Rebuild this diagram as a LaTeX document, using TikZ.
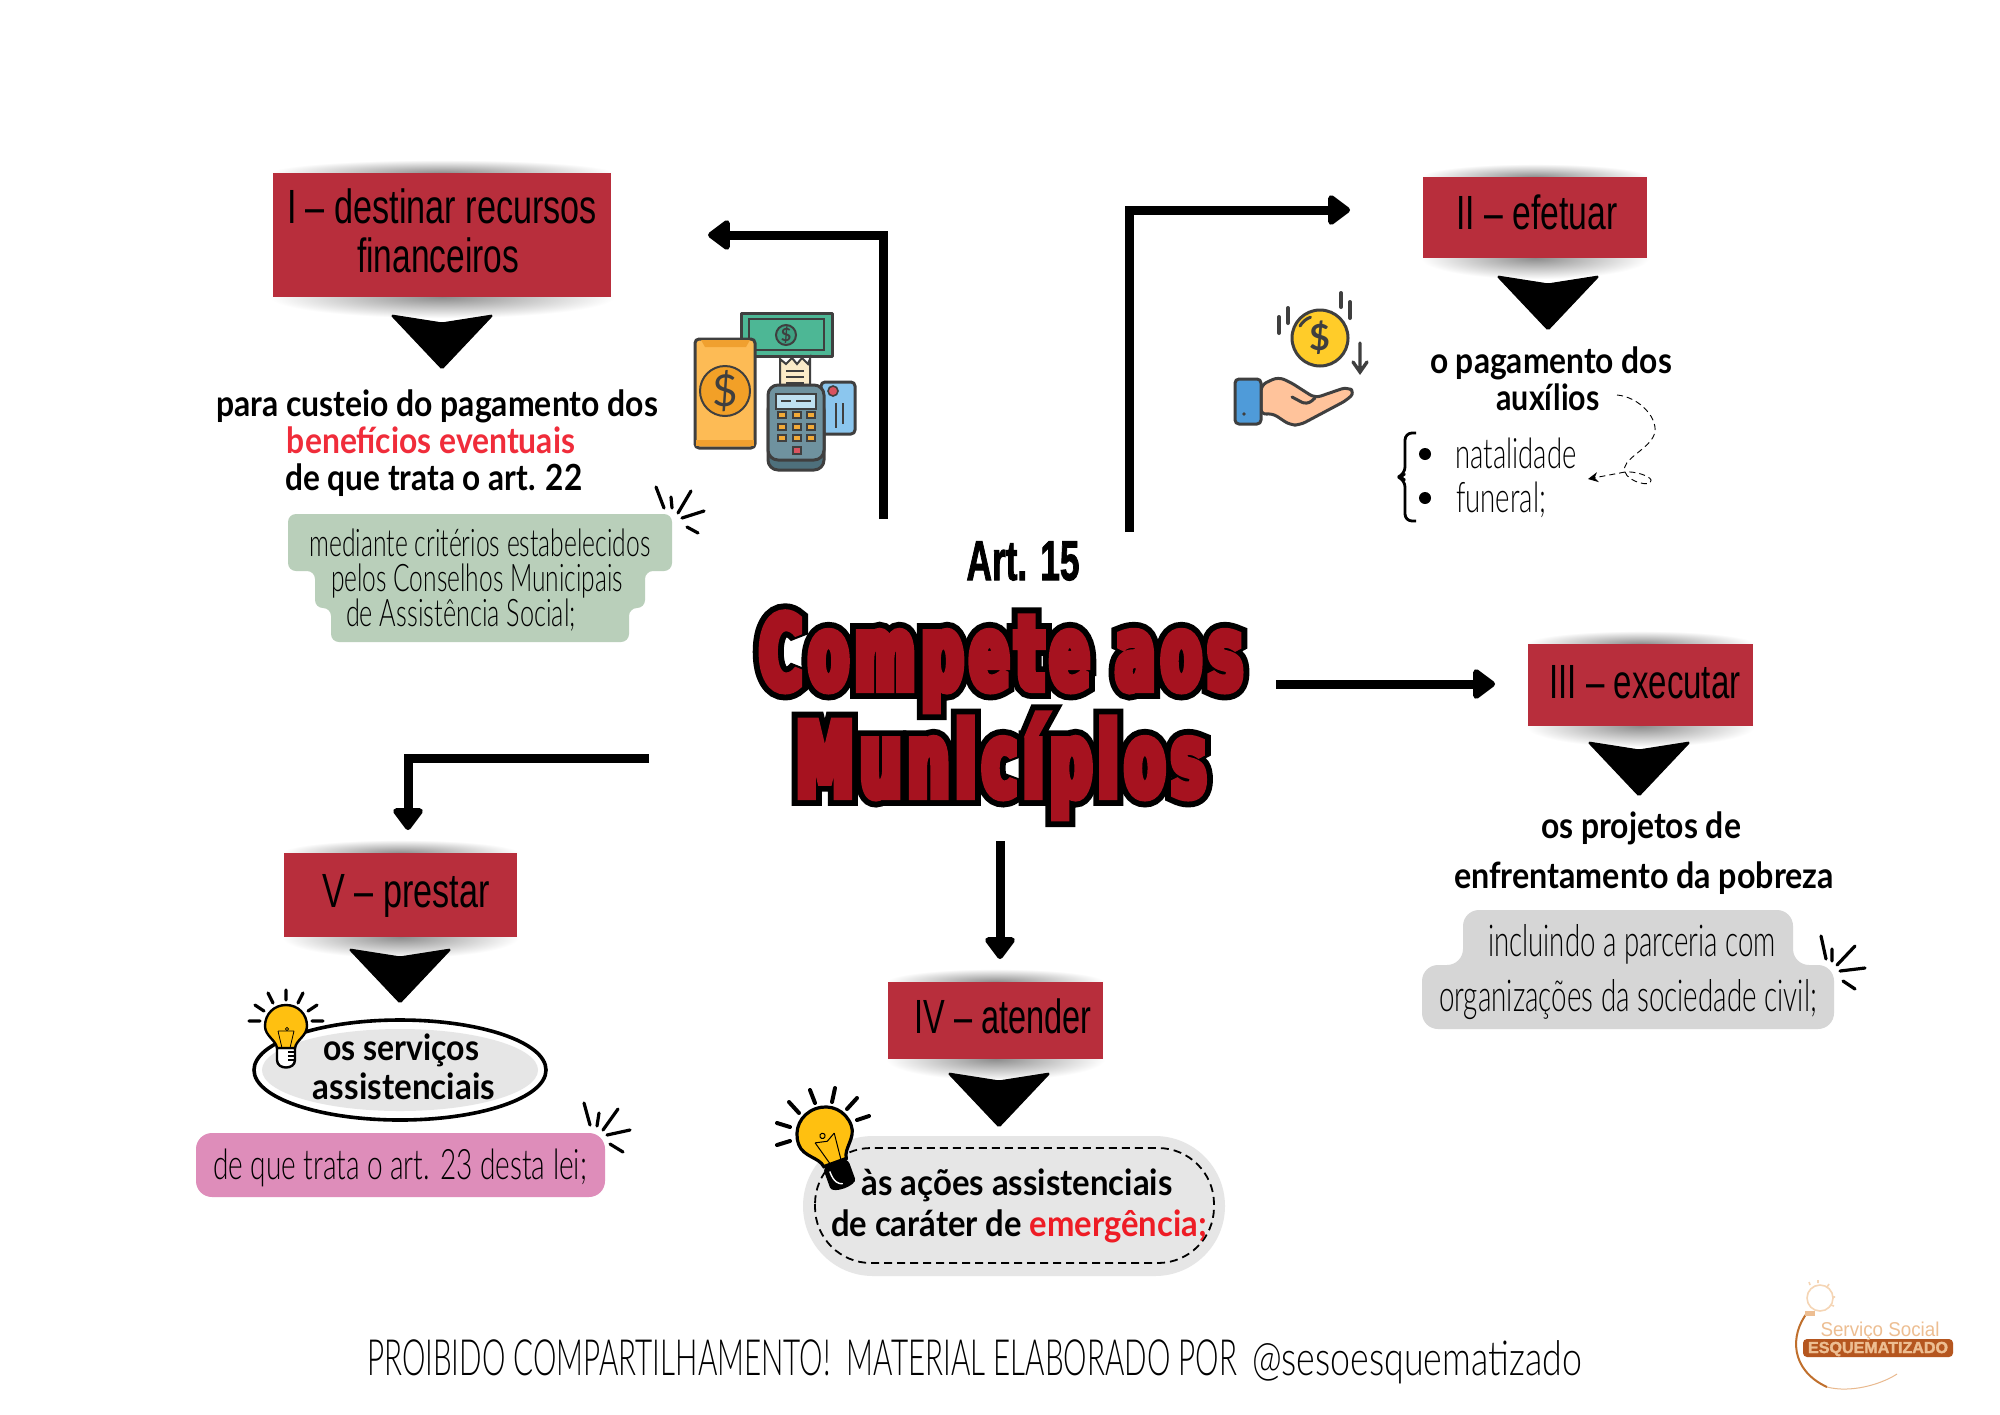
\documentclass[tikz,border=0pt]{standalone}
\usepackage{fontspec}
\usepackage{graphicx}
\usetikzlibrary{arrows.meta}
\setmainfont{Lato}
\newfontfamily\ttlf{Liberation Sans}
\newfontfamily\bldf{Lato Bold}
\newfontfamily\thnf{Lato Light}
\newfontfamily\artf[FakeBold=2]{Liberation Sans Bold}
\newfontfamily\compR[FakeStretch=.56,LetterSpace=7,FakeBold=8]{DejaVu Sans Bold}
\newfontfamily\compK[FakeStretch=.56,LetterSpace=7,FakeBold=19.5]{DejaVu Sans Bold}
\newdimen\pxu \pxu=0.5pt
\newcommand\fitw[2]{\resizebox{#1\pxu}{\height}{#2}}
\newcommand\ttl{\ttlf\fontsize{24}{28}\selectfont}
\newcommand\bld{\bldf\fontsize{18}{22}\selectfont}
\newcommand\thn{\thnf\fontsize{19}{23}\selectfont}
\definecolor{boxred}{HTML}{B82E3C}
\definecolor{titlered}{HTML}{A6121F}
\definecolor{benred}{HTML}{F02C3A}
\definecolor{emred}{HTML}{EE1C25}
\definecolor{greenb}{HTML}{B9CFBA}
\definecolor{grayb}{HTML}{D6D6D6}
\definecolor{lightb}{HTML}{E6E6E6}
\definecolor{pinkb}{HTML}{DE8DBA}
\definecolor{bulby}{HTML}{FFC010}
\definecolor{iconln}{HTML}{3F3F3F}
\definecolor{logob}{HTML}{B5561F}
\definecolor{logot}{HTML}{EDBE92}
\definecolor{cnote}{HTML}{4DB795}
\definecolor{cnoteb}{HTML}{3EA082}
\definecolor{cph}{HTML}{FDBB55}
\definecolor{cphb}{HTML}{F0A02F}
\definecolor{cphc}{HTML}{F2A027}
\definecolor{crec}{HTML}{FBEBC8}
\definecolor{ccard}{HTML}{8BC6EE}
\definecolor{cdot}{HTML}{D9535F}
\definecolor{ctermb}{HTML}{4E707C}
\definecolor{cterm}{HTML}{6F929F}
\definecolor{cscr}{HTML}{BFE0F0}
\definecolor{ckey}{HTML}{F2AA37}
\definecolor{ccoin}{HTML}{FFCC29}
\definecolor{chand}{HTML}{FFC39B}
\definecolor{ccuff}{HTML}{4F9BD9}
\definecolor{clga}{HTML}{C06F2C}
\definecolor{clgb}{HTML}{E9B98E}
\definecolor{clgc}{HTML}{F5D5B5}
\pgfdeclareradialshading{shadowsh}{\pgfpoint{0bp}{0bp}}{color(0bp)=(black!45); color(22bp)=(white); color(50bp)=(white)}
\tikzset{
  txt/.style={anchor=base,inner sep=0pt,outer sep=0pt},
  arrowln/.style={line width=4.5pt,-{Triangle[length=12pt,width=17pt,round]},line join=miter},
  sparkln/.style={line width=1.6pt,line cap=round},
  iconst/.style={draw=iconln,line width=1.5pt,line join=round},
  dcurve/.style={line width=.45pt,dash pattern=on 3pt off 2pt},
}
\newcommand\redbox[4]{%
  \shade[shading=shadowsh] ({(#1+#3)/2},#2) ellipse [x radius={(#3-#1)*0.58}, y radius=15];
  \shade[shading=shadowsh] ({(#1+#3)/2},#4) ellipse [x radius={(#3-#1)*0.58}, y radius=24];
  \fill[boxred] (#1,#2) rectangle (#3,#4);}
\newcommand\chev[1]{\fill[black,draw=black,line width=.6pt,line join=round,rounded corners=.8pt] (#1) ++(-51,1) -- ++(51,8) -- ++(51,-8) -- ++(-51,54) -- cycle;}
\newcommand\bulbshape[1]{%
  \filldraw[draw=black,fill=bulby,line width=#1] (-21,0) .. controls (-21,-12) and (-12,-21) .. (0,-21) .. controls (12,-21) and (21,-12) .. (21,0) .. controls (21,10) and (10,14) .. (9,22) -- (-9,22) .. controls (-10,14) and (-21,10) .. (-21,0) -- cycle;}
\begin{document}
\begin{tikzpicture}[x=0.5pt,y=-0.5pt]
\useasboundingbox (0,0) rectangle (2000,1414);
\fill[white] (0,0) rectangle (2000,1414);

% ---------- red boxes with their shadows
\redbox{273}{173}{611}{297}
\redbox{1423}{177}{1647}{258}
\redbox{1528}{644}{1753}{726}
\redbox{888}{982}{1103}{1059}
\redbox{284}{853}{517}{937}

% ---------- chevrons
\chev{442,314}
\chev{1548,275}
\chev{1639,741}
\chev{999,1072}
\chev{400,948}

% ---------- connectors
\coordinate (a1s) at (883,519);
\coordinate (a1e) at (708,235);
\coordinate (a2s) at (1129,532);
\coordinate (a2e) at (1350,210);
\coordinate (a3s) at (1276,684);
\coordinate (a3e) at (1495,684);
\coordinate (a4s) at (1000,841);
\coordinate (a4e) at (1000,959);
\coordinate (a5s) at (649,758);
\coordinate (a5e) at (408,830);
\draw[arrowln] (a1s) |- (a1e);
\draw[arrowln] (a2s) |- (a2e);
\draw[arrowln] (a3s) -- (a3e);
\draw[arrowln] (a4s) -- (a4e);
\draw[arrowln] (a5s) -| (a5e);

% ---------- box titles
\node[txt] (t1a) at (442,223) {\fitw{310}{\ttl I – destinar recursos}};
\node[txt] (t1b) at (438,272) {\fitw{162}{\ttl financeiros}};
\node[txt] (t2) at (1537,229) {\fitw{161}{\ttl II – efetuar}};
\node[txt] (t3) at (1645,698) {\fitw{191}{\ttl III – executar}};
\node[txt] (t4) at (1003,1033) {\fitw{177}{\ttl IV – atender}};
\node[txt] (t5) at (406,907) {\fitw{167}{\ttl V – prestar}};

% ---------- branch I
\node[txt] (b1a) at (437,416) {\fitw{442}{\bld para custeio do pagamento dos}};
\node[txt] (b1b) at (431,453) {\fitw{288}{\bld\color{benred} benefícios eventuais}};
\node[txt] (b1c) at (434,490) {\fitw{297}{\bld de que trata o art. 22}};
\fill[greenb,rounded corners=4pt] (288,514) -- (672,514) -- (672,571) -- (645,571) -- (645,608) -- (629,608) -- (629,642) -- (331,642) -- (331,608) -- (315,608) -- (315,571) -- (288,571) -- cycle;
\node[txt] (n1a) at (480,556) {\fitw{341}{\thn mediante critérios estabelecidos}};
\node[txt] (n1b) at (477,591) {\fitw{292}{\thn pelos Conselhos Municipais}};
\node[txt] (n1c) at (461,626) {\fitw{230}{\thn de Assistência Social;}};
\draw[sparkln] (656,487)--(664,508) (671,497)--(672,508) (691,491)--(678,513) (704,511)--(682,518) (698,533)--(687,527);

% ---------- money icons
\begin{scope}[shift={(-7,0)}]
\filldraw[iconst,fill=cnote] (748,313) rectangle (839,356);
\draw[iconln,line width=.8pt] (756,319) rectangle (831,350);
\filldraw[draw=iconln,fill=cnoteb,line width=1pt] (793,335) circle [radius=10];
\node[txt,anchor=center] (dn) at (793,335) {\fontsize{9}{9}\selectfont\bfseries\color{iconln}\$};
\filldraw[iconst,fill=cph,rounded corners=2pt] (702,339) rectangle (762,448);
\fill[cphb] (708,340) -- (757,340) -- (753,347) -- (712,347) -- cycle;
\fill[cphb] (703,440) rectangle (761,446);
\filldraw[draw=iconln,fill=cphc,line width=1pt] (732,391) circle [radius=25];
\node[txt,anchor=center] (dp) at (732,391) {\fontsize{22}{22}\selectfont\color{iconln}\$};
\filldraw[draw=iconln,fill=crec,line width=1pt] (787,385) -- (787,359) -- (793,364) -- (799,358) -- (804,364) -- (809,358) -- (815,364) -- (817,359) -- (817,385) -- cycle;
\draw[iconln,line width=1pt] (793,371)--(811,371) (793,377)--(811,377) (793,383)--(811,383);
\filldraw[iconst,fill=ccard,rounded corners=2pt] (828,382) rectangle (862,434);
\filldraw[draw=iconln,fill=cdot,line width=.8pt] (840,391) circle [radius=5];
\draw[iconln,line width=.8pt] (843,403)--(843,428) (850,403)--(850,424);
\filldraw[iconst,fill=ctermb,rounded corners=5pt] (775,400) rectangle (831,470);
\filldraw[iconst,fill=cterm,rounded corners=5pt] (775,385) rectangle (831,460);
\filldraw[draw=iconln,line width=.8pt,fill=cscr] (783,394) rectangle (823,409);
\draw[iconln,line width=1pt] (788,401)--(798,401) (803,401)--(818,401);
\foreach \i in {789,804,818}{\foreach \j in {415,427,438}{
  \filldraw[draw=iconln,line width=.8pt,fill=ckey] (\i-4,\j-3) rectangle (\i+4,\j+3);}}
\filldraw[draw=iconln,line width=.8pt,fill=cdot] (800,447) rectangle (808,454);
\end{scope}

% ---------- branch II
\node[txt] (b2a) at (1551,373) {\fitw{242}{\bld o pagamento dos}};
\node[txt] (b2b) at (1548,410) {\fitw{103}{\bld auxílios}};
\draw[line width=1.4pt,line join=round,rounded corners=3.5pt] (1416,433) -- (1405,433) -- (1405,474) -- (1398,477) -- (1405,480) -- (1405,521) -- (1416,521);
\fill (1425,454) circle [radius=6];
\fill (1425,498) circle [radius=6];
\node[txt] (n2a) at (1516,468) {\fitw{121}{\thnf\fontsize{21}{24}\selectfont natalidade}};
\node[txt] (n2b) at (1501,512) {\fitw{90}{\thnf\fontsize{21}{24}\selectfont funeral;}};
\coordinate (c1) at (1617,395);
\coordinate (c2) at (1625,472);
\coordinate (c3) at (1588,479);
\draw[dcurve] (c1) .. controls (1640,397) and (1660,420) .. (1654,435) .. controls (1648,450) and (1620,460) .. (1625,472) .. controls (1628,482) and (1652,488) .. (1651,480) .. controls (1650,476) and (1635,471) .. (1625,472);
\draw[dcurve,-{Stealth[length=5pt,width=5pt]}] (c2) -- (c3);
% coin and hand
\draw[iconln,line width=2pt,line cap=round] (1279,317)--(1279,333) (1288,308)--(1288,323) (1341,293)--(1341,307) (1350,302)--(1350,318);
\filldraw[iconst,fill=ccoin] (1320,338) circle [radius=28];
\node[txt,anchor=center] (dc) at (1320,338) {\fontsize{18}{18}\selectfont\bfseries\color{iconln}\$};
\draw[iconln,line width=1.5pt,line cap=round] (1300,326) arc [start angle=210,end angle=250,radius=20];
\draw[iconln,line width=1.7pt,line cap=round] (1360,343)--(1360,371) (1353,362)--(1360,372)--(1367,362);
\filldraw[iconst,fill=chand,rounded corners=3pt] (1261,385) -- (1278,377) -- (1290,382) -- (1315,398) -- (1347,387) -- (1355,392) -- (1347,400) -- (1300,425) -- (1290,425) -- (1272,413) -- (1261,415) -- cycle;
\draw[iconln,line width=1.5pt,line cap=round,rounded corners=3pt] (1292,397) -- (1307,405) -- (1315,398);
\filldraw[iconst,fill=ccuff,rounded corners=2pt] (1235,379) rectangle (1261,424);
\fill[iconln] (1244,414) circle [radius=1.8];

% ---------- centre
\node[txt] (art) at (1023,580) {\fitw{113}{\artf\fontsize{28}{32}\selectfont Art. 15}};
\begin{scope}[miter limit=2]
\node[txt] (comp) at (1001,689) {\fontsize{51}{51}\selectfont\rlap{\compK\color{black}Compete aos}\compR\color{titlered}Compete aos};
\node[txt] (muni) at (1001,796) {\fontsize{51}{51}\selectfont\rlap{\compK\color{black}Municípios}\compR\color{titlered}Municípios};
\end{scope}

% ---------- branch III
\node[txt] (b3a) at (1641,838) {\fitw{200}{\bld os projetos de}};
\node[txt] (b3b) at (1644,888) {\fitw{380}{\bld enfrentamento da pobreza}};
\fill[grayb,rounded corners=8pt] (1463,910) -- (1793,910) -- (1793,965) -- (1834,965) -- (1834,1029) -- (1422,1029) -- (1422,965) -- (1463,965) -- cycle;
\node[txt] (n3a) at (1632,956) {\fitw{288}{\thnf\fontsize{22}{25}\selectfont incluindo a parceria com}};
\node[txt] (n3b) at (1628,1011) {\fitw{378}{\thnf\fontsize{22}{25}\selectfont organizações da sociedade civil;}};
\draw[sparkln] (1821,936)--(1826,959) (1832,949)--(1832,961) (1855,946)--(1837,965) (1865,968)--(1840,971) (1855,989)--(1843,981);

% ---------- branch IV
\fill[lightb,rounded corners=35pt] (803,1136) rectangle (1225,1276);
\draw[line width=.9pt,dash pattern=on 4pt off 2.5pt,rounded corners=28pt] (815,1148) rectangle (1214,1263);
\draw[sparkln,line width=2pt] (777,1123)--(790,1127) (777,1145)--(790,1141) (789,1102)--(799,1113) (810,1090)--(815,1103) (835,1088)--(832,1102) (857,1098)--(847,1109) (869,1116)--(857,1120);
\begin{scope}[shift={(825,1135)},rotate=20,scale=1.33]
\fill[black,rounded corners=3pt] (-10,22) -- (10,22) -- (10,34) .. controls (10,44) and (-10,44) .. (-10,34) -- cycle;
\draw[white,line width=.7pt] (-6,27) .. controls (-6,36) and (-3,38) .. (0,39);
\bulbshape{1.6pt}
\draw[black,line width=.5pt] (-9,3)--(-4,21) (7,1)--(5,21) (-9,3)--(0,5)--(7,1);
\draw[black,line width=.5pt] (-2,0) circle [radius=2];
\end{scope}
\node[txt] (b4a) at (1017,1195) {\fitw{311}{\bld às ações assistenciais}};
\node[txt] (b4b) at (1019,1236) {\fitw{376}{\bld de caráter de \textcolor{emred}{emergência;}}};

% ---------- branch V
\filldraw[draw=black,fill=white,line width=1.8pt] (400,1070) ellipse [x radius=146, y radius=50];
\fill[lightb] (400,1070) ellipse [x radius=138, y radius=41];
\draw[sparkln] (249,1021)--(260,1021) (255,1005)--(264,1011) (268,993)--(273,1003) (286,990)--(286,1000) (303,993)--(298,1003) (317,1005)--(308,1011) (323,1021)--(312,1021);
\begin{scope}[shift={(286,1026)}]
\filldraw[draw=black,fill=white,line width=1.2pt] (-9,22) -- (9,22) -- (9,34) .. controls (9,44) and (-9,44) .. (-9,34) -- cycle;
\draw[black,line width=.8pt] (2,26)--(9,26) (2,30)--(9,30) (2,34)--(8,34);
\bulbshape{1.2pt}
\draw[black,line width=.4pt] (-8,5)--(-4,22) (8,5)--(4,22) (-8,5)--(8,5);
\draw[black,line width=.4pt] (1,3) circle [radius=1.6];
\end{scope}
\node[txt] (b5a) at (401,1060) {\fitw{156}{\bld os serviços}};
\node[txt] (b5b) at (404,1099) {\fitw{182}{\bld assistenciais}};
\fill[pinkb,rounded corners=8pt] (196,1133) rectangle (605,1197);
\node[txt] (n5) at (400,1179) {\fitw{374}{\thnf\fontsize{21}{25}\selectfont de que trata o art. 23 desta lei;}};
\draw[sparkln] (584,1103)--(590,1125) (599,1113)--(597,1126) (618,1109)--(603,1130) (630,1130)--(607,1135) (623,1152)--(610,1144);

% ---------- footer
\node[txt] (foota) at (802,1375) {\fitw{870}{\thnf\fontsize{25}{28}\selectfont PROIBIDO COMPARTILHAMENTO!\ \ MATERIAL ELABORADO POR}};
\node[txt] (footb) at (1417,1375) {\fitw{330}{\thnf\fontsize{24}{28}\selectfont @sesoesquematizado}};

% ---------- logo
\draw[clga,line width=1pt] (1807,1313) .. controls (1790,1335) and (1790,1370) .. (1827,1387);
\draw[clgb,line width=.5pt] (1827,1387) .. controls (1850,1393) and (1880,1385) .. (1897,1374);
\draw[clgc,line width=.8pt] (1820,1298) circle [radius=13];
\fill[logot] (1805,1311) rectangle (1815,1316);
\draw[clgc,line width=.8pt] (1810,1285)--(1809,1282) (1818,1283)--(1818,1280) (1827,1287)--(1829,1284) (1832,1297)--(1835,1297) (1831,1305)--(1834,1306);
\fill[logob,rounded corners=2pt] (1803,1339) rectangle (1953,1357);
\node[txt] (lg1) at (1880,1336) {\fitw{119}{\ttlf\fontsize{10}{12}\selectfont\color{logot}Serviço Social}};
\node[txt] (lg2) at (1878,1353) {\fitw{140}{\artf\fontsize{8}{10}\selectfont\color{logot}ESQUEMATIZADO}};
\end{tikzpicture}
\end{document}
